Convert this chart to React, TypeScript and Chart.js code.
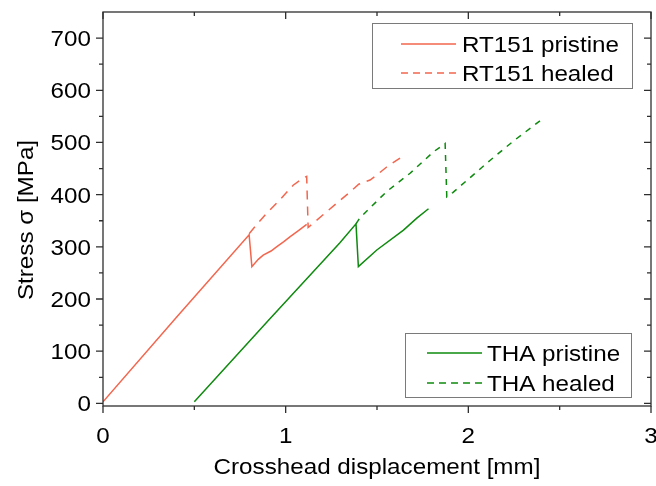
import React, { useEffect, useRef } from 'react';
import { Chart, registerables } from 'chart.js';

Chart.register(...registerables);

// ---- data (crosshead displacement [mm], stress [MPa]) ----
const rtPristineX = [0, 0.4, 0.8, 0.815, 0.85, 0.877, 0.92, 0.95, 0.99, 1.023, 1.07, 1.115];
const rtPristineY = [3, 164, 323, 262, 276, 284, 292, 300, 310, 319, 331, 343];

const rtHealedX = [0.8, 0.84, 0.895, 0.968, 1.041, 1.096, 1.115, 1.123, 1.2, 1.352, 1.4, 1.462, 1.5, 1.553, 1.626];
const rtHealedY = [325, 342, 364, 390, 418, 432, 435, 337, 360, 405, 420, 428, 438, 453, 470];

const thaPristineX = [0.5, 0.9, 1.297, 1.385, 1.398, 1.499, 1.645, 1.718, 1.782];
const thaPristineY = [3, 157, 308, 344, 262, 294, 332, 355, 373];

const thaHealedX = [1.385, 1.405, 1.553, 1.681, 1.809, 1.873, 1.882, 1.915, 2.12, 2.248, 2.398];
const thaHealedY = [344, 355, 406, 441, 482, 498, 396, 404, 466, 503, 543];

const xTicks = [0, 1, 2, 3];
const xMinorTicks = [0.5, 1.5, 2.5];
const yTicks = [0, 100, 200, 300, 400, 500, 600, 700];
const yMinorTicks = [50, 150, 250, 350, 450, 550, 650];

const xTitle = 'Crosshead displacement [mm]';
const yTitle = 'Stress σ [MPa]';
const legendTop = ['RT151 pristine', 'RT151 healed'];
const legendBottom = ['THA pristine', 'THA healed'];

const RED = '#F2664E';
const GREEN = '#0E8A0E';
const AXIS = '#2e2e2e';
const FONT = '"Liberation Sans", Arial, sans-serif';
const FS = 22;
const STRETCH = 1.1;

function pts(xs: number[], ys: number[]) {
  return xs.map((x, i) => ({ x, y: ys[i] }));
}

function drawText(ctx: CanvasRenderingContext2D, s: string, x: number, y: number, align: CanvasTextAlign, rot = 0) {
  ctx.save();
  ctx.translate(x, y);
  if (rot) ctx.rotate(rot);
  ctx.scale(STRETCH, 1);
  ctx.font = `${FS}px ${FONT}`;
  ctx.fillStyle = '#000';
  ctx.textAlign = align;
  ctx.textBaseline = 'alphabetic';
  ctx.fillText(s, 0, 0);
  ctx.restore();
}

function drawLegend(
  ctx: CanvasRenderingContext2D,
  box: [number, number, number, number],
  lineX: [number, number],
  textX: number,
  rows: number[],
  labels: string[],
  color: string
) {
  ctx.save();
  ctx.fillStyle = '#fff';
  ctx.fillRect(box[0], box[1], box[2] - box[0], box[3] - box[1]);
  ctx.strokeStyle = '#7a7a7a';
  ctx.lineWidth = 1;
  ctx.strokeRect(box[0] + 0.5, box[1] + 0.5, box[2] - box[0], box[3] - box[1]);
  ctx.strokeStyle = color;
  ctx.lineWidth = 1.5;
  rows.forEach((ry, i) => {
    ctx.setLineDash(i === 0 ? [] : [7, 5]);
    ctx.beginPath();
    ctx.moveTo(lineX[0], ry);
    ctx.lineTo(lineX[1], ry);
    ctx.stroke();
    drawText(ctx, labels[i], textX, ry + 8, 'left');
  });
  ctx.restore();
}

const framePlugin = {
  id: 'frame',
  afterDraw(chart: any) {
    const { ctx, chartArea: a, scales } = chart;
    const xs = scales.x;
    const ys = scales.y;
    ctx.save();
    ctx.strokeStyle = AXIS;
    ctx.lineWidth = 1.3;
    ctx.setLineDash([]);
    ctx.strokeRect(a.left, a.top, a.right - a.left, a.bottom - a.top);
    ctx.beginPath();
    const tick = (vals: number[], len: number) => {
      vals.forEach((v) => {
        const p = ys.getPixelForValue(v);
        ctx.moveTo(a.left - len, p);
        ctx.lineTo(a.left, p);
        ctx.moveTo(a.right - len, p);
        ctx.lineTo(a.right, p);
      });
    };
    const xtick = (vals: number[], len: number) => {
      vals.forEach((v) => {
        const p = xs.getPixelForValue(v);
        ctx.moveTo(p, a.bottom);
        ctx.lineTo(p, a.bottom + len);
        ctx.moveTo(p, a.top);
        ctx.lineTo(p, a.top + len);
      });
    };
    tick(yTicks, 7);
    tick(yMinorTicks, 4);
    xtick(xTicks, 7);
    xtick(xMinorTicks, 4);
    ctx.stroke();
    ctx.restore();

    yTicks.forEach((v) => {
      drawText(ctx, String(v), a.left - 12, ys.getPixelForValue(v) + 8, 'right');
    });
    xTicks.forEach((v) => {
      drawText(ctx, String(v), xs.getPixelForValue(v), a.bottom + 37, 'center');
    });
    drawText(ctx, xTitle, (a.left + a.right) / 2, 474, 'center');
    drawText(ctx, yTitle, 33, 220, 'center', -Math.PI / 2);

    drawLegend(ctx, [372, 23, 632, 88], [401, 456], 462, [44, 73], legendTop, RED);
    drawLegend(ctx, [405, 333, 631, 397], [427, 482], 487, [353, 383], legendBottom, GREEN);
  },
};

export default function App() {
  const ref = useRef<HTMLCanvasElement | null>(null);
  useEffect(() => {
    if (!ref.current) return;
    const chart = new Chart(ref.current, {
      type: 'line',
      data: {
        datasets: [
          { label: legendTop[0], data: pts(rtPristineX, rtPristineY), borderColor: RED, borderWidth: 1.5 },
          { label: legendTop[1], data: pts(rtHealedX, rtHealedY), borderColor: RED, borderWidth: 1.5, borderDash: [9, 7] },
          { label: legendBottom[0], data: pts(thaPristineX, thaPristineY), borderColor: GREEN, borderWidth: 1.5 },
          { label: legendBottom[1], data: pts(thaHealedX, thaHealedY), borderColor: GREEN, borderWidth: 1.5, borderDash: [6, 6] },
        ],
      },
      options: {
        animation: false,
        responsive: false,
        devicePixelRatio: 1,
        layout: { padding: { top: 12, right: 5, left: 0, bottom: 0 }, autoPadding: false },
        plugins: { legend: { display: false }, tooltip: { enabled: false } },
        elements: { point: { radius: 0 }, line: { tension: 0, fill: false } },
        scales: {
          x: {
            type: 'linear',
            min: 0,
            max: 3,
            grid: { display: false },
            border: { display: false },
            ticks: { display: false },
            afterFit: (s: any) => { s.height = 80; },
          },
          y: {
            type: 'linear',
            min: -5,
            max: 750,
            grid: { display: false },
            border: { display: false },
            ticks: { display: false },
            afterFit: (s: any) => { s.width = 103; },
          },
        },
      } as any,
      plugins: [framePlugin],
    });
    return () => chart.destroy();
  }, []);
  return (
    <div style={{ position: 'absolute', left: 0, top: 0, width: 656, height: 486, background: '#fff' }}>
      <canvas ref={ref} width={656} height={486} style={{ display: 'block' }} />
    </div>
  );
}
